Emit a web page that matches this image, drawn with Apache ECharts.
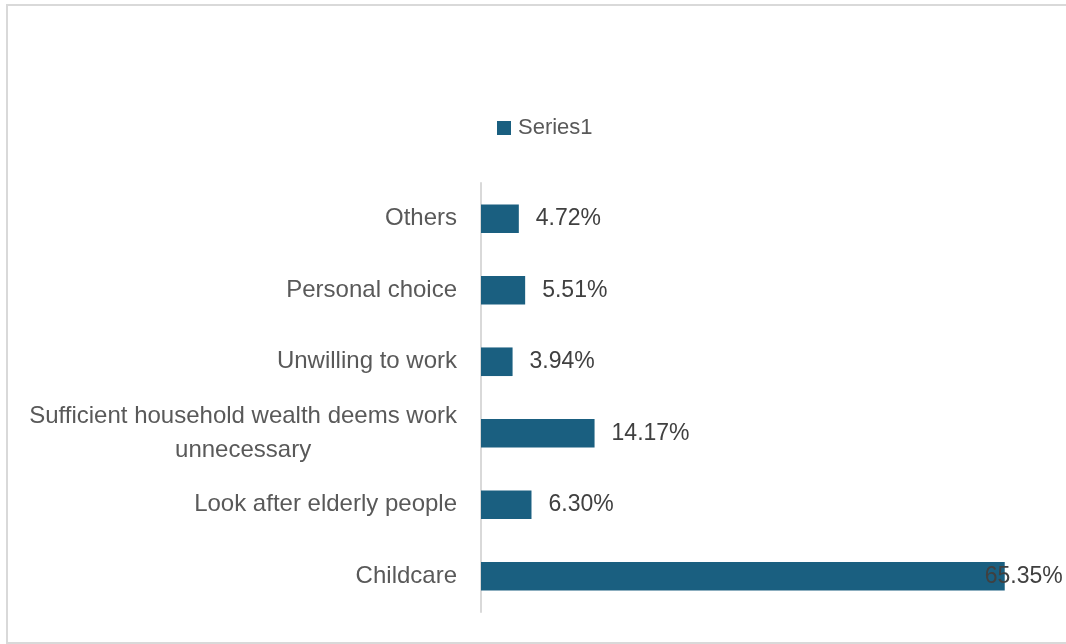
<!DOCTYPE html>
<html>
<head>
<meta charset="utf-8">
<script src="https://cdn.jsdelivr.net/npm/echarts@6/dist/echarts.min.js"></script>
<style>
  html, body { margin: 0; padding: 0; background: #ffffff; }
  #frame {
    position: absolute; left: 6px; top: 4px; width: 1080px; height: 640px;
    border: 2px solid #d9d9d9; box-sizing: border-box;
  }
  #chart { position: absolute; left: 0; top: 0; width: 1066px; height: 644px; }
</style>
</head>
<body>
<div id="frame"></div>
<div id="chart"></div>
<script>
// Reasons given (bottom to top on the category axis)
const categories = [
  'Childcare',
  'Look after elderly people',
  'Sufficient household wealth deems work unnecessary',
  'Unwilling to work',
  'Personal choice',
  'Others'
];
// Share of respondents, percent
const series1 = [65.35, 6.30, 14.17, 3.94, 5.51, 4.72];
const seriesName = 'Series1';

const FONT = '"Liberation Sans", Arial, sans-serif';

// word-wrap a category name into lines of at most maxChars characters
function wrapWords(text, maxChars) {
  const lines = [];
  let line = '';
  text.split(' ').forEach(w => {
    if (line && (line + ' ' + w).length > maxChars) {
      lines.push(line);
      line = w;
    } else {
      line = line ? line + ' ' + w : w;
    }
  });
  if (line) lines.push(line);
  return lines;
}

const chart = echarts.init(document.getElementById('chart'), null, { renderer: 'canvas' });

const barData = series1.map((v, i) => {
  const item = { value: v };
  // the longest bar keeps its label inside the frame, overlapping the bar end
  if (i === 0) item.label = { offset: [-37, 0] };
  return item;
});

chart.setOption({
  animation: false,
  textStyle: { fontFamily: FONT },
  legend: {
    data: [seriesName],
    top: 112,
    left: 492,
    itemWidth: 14,
    itemHeight: 14,
    itemGap: 7,
    icon: 'rect',
    textStyle: { fontSize: 22, color: '#595959', padding: [0, 0, 0, 2] }
  },
  grid: { left: 481, right: 24, top: 183, bottom: 32, containLabel: false },
  xAxis: {
    type: 'value',
    min: 0,
    max: 70,
    show: false,
    splitLine: { show: false }
  },
  yAxis: {
    type: 'category',
    data: categories,
    axisLine: { show: true, lineStyle: { color: '#d9d9d9', width: 2 } },
    axisTick: { show: false },
    axisLabel: {
      margin: 24,
      formatter: v => wrapWords(v, 40).map(l => '{c|' + l + '}').join('\n'),
      rich: {
        c: {
          align: 'center',
          fontFamily: FONT,
          fontSize: 24,
          color: '#595959',
          lineHeight: 34
        }
      }
    }
  },
  series: [{
    name: seriesName,
    type: 'bar',
    data: barData,
    barCategoryGap: '60%',
    itemStyle: { color: '#1a5f80' },
    label: {
      show: true,
      position: 'right',
      distance: 17,
      fontSize: 23,
      color: '#404040',
      formatter: p => p.value.toFixed(2) + '%'
    }
  }]
});
</script>
</body>
</html>
